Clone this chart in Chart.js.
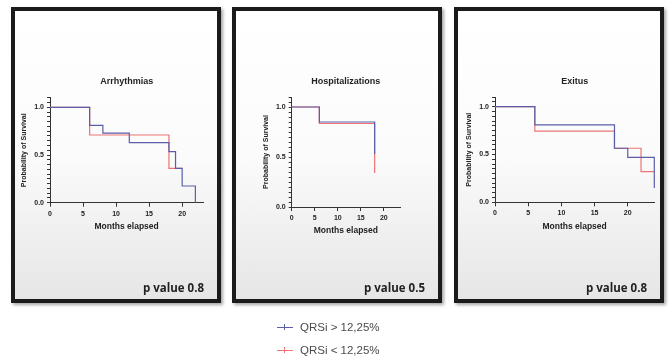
<!DOCTYPE html>
<html>
<head>
<meta charset="utf-8">
<script src="https://cdn.jsdelivr.net/npm/chart.js@4.4.1/dist/chart.umd.min.js"></script>
<style>
  html, body { margin: 0; padding: 0; background: #fff; }
  body { width: 670px; height: 358px; position: relative; overflow: hidden; font-family: "Liberation Sans", Arial, sans-serif; }
  .panel { position: absolute; top: 7px; width: 210px; height: 296px; box-sizing: border-box;
           border: 4px solid #1b1b1b;
           background: linear-gradient(#ffffff 0%, #fbfbfb 50%, #e6e6e6 100%);
           box-shadow: 2px 2px 3px rgba(0,0,0,0.35); }
  .panel canvas { position: absolute; left: 0; top: 0; }
  .pval { position: absolute; right: 13px; top: 269px; line-height: 14px;
          font: 700 11.5px "Open Sans", sans-serif; color: #222; white-space: nowrap; }
  .legend { position: absolute; left: 277px; top: 319px; font-size: 11.5px; color: #4a4a4a; }
  .legend .row { position: relative; height: 23px; line-height: 16px; padding-left: 23px; white-space: nowrap; }
  .legend .sym { position: absolute; left: 0; top: 8px; width: 16px; height: 1px; }
  .legend .sym::after { content: ""; position: absolute; left: 7px; top: -3px; width: 1px; height: 6px; background: inherit; }
</style>
</head>
<body>
<div class="panel" style="left:11px"><canvas id="c0" width="202" height="288"></canvas><div class="pval" id="p0"></div></div>
<div class="panel" style="left:232px"><canvas id="c1" width="202" height="288"></canvas><div class="pval" id="p1"></div></div>
<div class="panel" style="left:454px"><canvas id="c2" width="202" height="288"></canvas><div class="pval" id="p2"></div></div>
<div class="legend" id="legend"></div>
<script>
// series and panels
const seriesNames = ['QRSi > 12,25%', 'QRSi < 12,25%'];
const seriesColors = ['#5a5ea8', '#ee7474'];
const panelTitles = ['Arrhythmias', 'Hospitalizations', 'Exitus'];
const pValues = ['p value 0.8', 'p value 0.5', 'p value 0.8'];
const yLabelTicks = [0, 0.5, 1];
const xAxisMax = [23.2, 23.5, 24];

// Kaplan-Meier steps (months, survival)
const arrHighMonths = [0, 6, 8, 12, 18, 19, 20, 22];
const arrHighSurv   = [1, 0.81, 0.73, 0.63, 0.535, 0.36, 0.175, 0];
const arrLowMonths  = [0, 6, 18, 20];
const arrLowSurv    = [1, 0.71, 0.36, 0.36];

const hospHighMonths = [0, 6, 18];
const hospHighSurv   = [1, 0.85, 0.53];
const hospLowMonths  = [0, 6, 18];
const hospLowSurv    = [1, 0.835, 0.34];

const exHighMonths = [0, 6, 18, 20, 24];
const exHighSurv   = [1, 0.81, 0.565, 0.47, 0.15];
const exLowMonths  = [0, 6, 18, 22, 24];
const exLowSurv    = [1, 0.745, 0.565, 0.32, 0.32];

const panelData = [
    [[arrHighMonths, arrHighSurv], [arrLowMonths, arrLowSurv]],
    [[hospHighMonths, hospHighSurv], [hospLowMonths, hospLowSurv]],
    [[exHighMonths, exHighSurv], [exLowMonths, exLowSurv]]
];

// plot area of each panel in page pixels
const plotBoxes = [
    { ox: 15,  left: 50,    right: 203.3, top: 97.8, bottom: 202.7 },
    { ox: 236, left: 291.7, right: 400,   top: 97,   bottom: 207 },
    { ox: 458, left: 495,   right: 654.3, top: 97.1, bottom: 202.3 }
];
const OY = 11, W = 202, H = 288, TITLE_Y = 82;
const Y_W = 35, X_H = 36;

Chart.defaults.font.family = '"Liberation Sans", Arial, sans-serif';
Chart.defaults.color = '#222';

function toPoints(xs, ys) {
    return xs.map((x, i) => ({ x: x, y: ys[i] }));
}

panelTitles.forEach(function (title, i) {
    const box = plotBoxes[i];
    const titleLH = 9 * 1.2;
    const ctx = document.getElementById('c' + i).getContext('2d');
    document.getElementById('p' + i).textContent = pValues[i];

    new Chart(ctx, {
        type: 'line',
        data: {
            datasets: panelData[i].map((s, k) => ({
                label: seriesNames[k],
                data: toPoints(s[0], s[1]),
                borderColor: seriesColors[k],
                borderWidth: 1.2,
                stepped: true,
                pointRadius: 0,
                fill: false,
                clip: false,
                order: k === 0 ? 0 : 1
            }))
        },
        options: {
            responsive: false,
            animation: false,
            layout: {
                padding: {
                    left: box.left - box.ox - Y_W,
                    right: box.ox + W - box.right,
                    top: TITLE_Y - titleLH / 2 - OY,
                    bottom: OY + H - box.bottom - X_H
                }
            },
            scales: {
                x: {
                    type: 'linear',
                    min: 0,
                    max: xAxisMax[i],
                    afterFit: s => { s.height = X_H; },
                    border: { display: true, color: '#333', width: 1 },
                    grid: { drawOnChartArea: false, drawTicks: true, tickLength: 4, color: '#333' },
                    ticks: { stepSize: 5, includeBounds: false, padding: 3, font: { size: 7, weight: 'bold' }, maxRotation: 0 },
                    title: { display: true, text: 'Months elapsed', font: { size: 8.5, weight: 'bold' }, padding: { top: 0, bottom: 7 } }
                },
                y: {
                    min: 0,
                    max: 1.1,
                    afterFit: s => { s.width = Y_W; },
                    border: { display: true, color: '#333', width: 1 },
                    grid: { drawOnChartArea: false, drawTicks: true, tickLength: 3, color: '#333' },
                    ticks: {
                        stepSize: 0.05,
                        includeBounds: false,
                        autoSkip: false,
                        padding: 3,
                        font: { size: 7, weight: 'bold' },
                        callback: v => yLabelTicks.some(t => Math.abs(t - v) < 1e-6) ? v.toFixed(1) : ''
                    },
                    title: { display: true, text: 'Probability of Survival', font: { size: 7, weight: 'bold' }, padding: { top: 5, bottom: 0 } }
                }
            },
            plugins: {
                legend: { display: false },
                tooltip: { enabled: false },
                title: {
                    display: true,
                    text: title,
                    fullSize: false,
                    font: { size: 9, weight: 'bold' },
                    color: '#222',
                    padding: { top: 0, bottom: box.top - TITLE_Y - titleLH / 2 }
                }
            }
        }
    });
});

// legend below the panels
const legend = document.getElementById('legend');
seriesNames.forEach(function (name, k) {
    const row = document.createElement('div');
    row.className = 'row';
    const sym = document.createElement('span');
    sym.className = 'sym';
    sym.style.background = seriesColors[k];
    row.appendChild(sym);
    row.appendChild(document.createTextNode(name));
    legend.appendChild(row);
});
</script>
</body>
</html>
